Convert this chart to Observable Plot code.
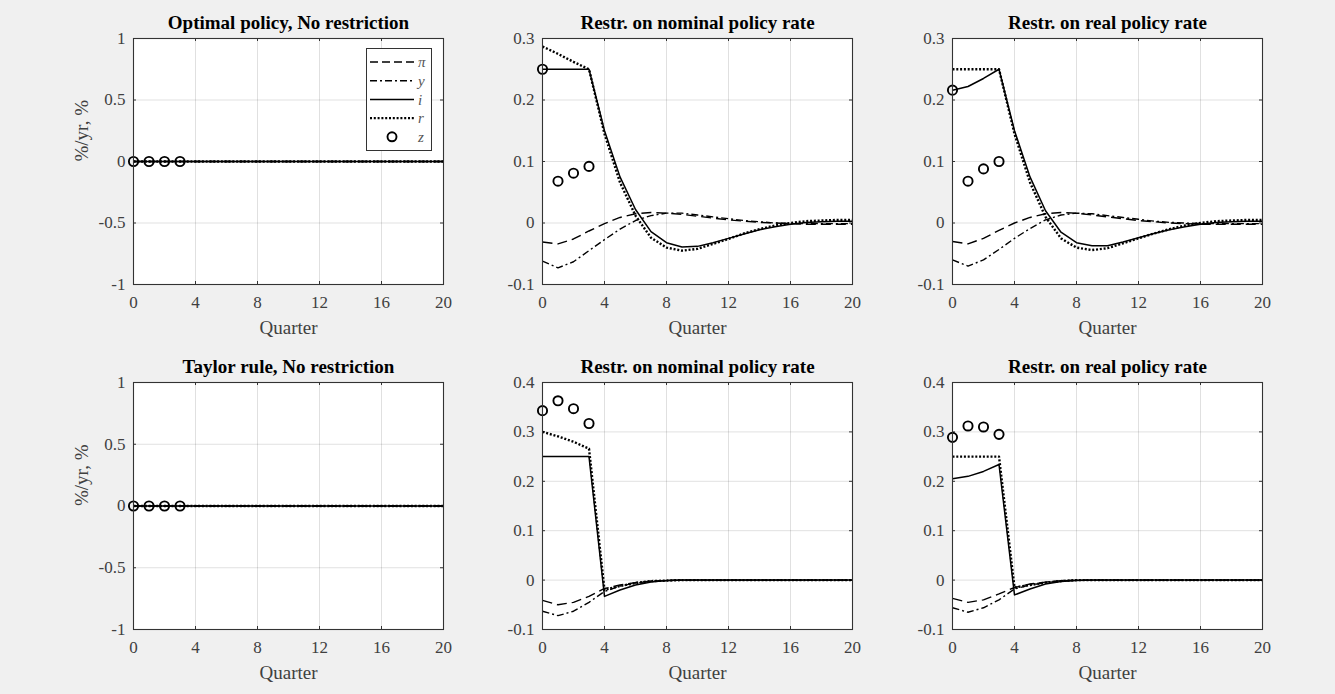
<!DOCTYPE html>
<html><head><meta charset="utf-8">
<script src="https://cdn.jsdelivr.net/npm/d3@7"></script>
<script src="https://cdn.jsdelivr.net/npm/@observablehq/plot@0.6"></script>
<style>
body{margin:0;background:#f0f0f0;}
#fig{position:relative;width:1335px;height:694px;background:#f0f0f0;overflow:hidden;font-family:"Liberation Serif",serif;}
</style></head><body><div id="fig"></div>
<script>
// ---------- data ----------
const quarters = [0,1,2,3,4,5,6,7,8,9,10,11,12,13,14,15,16,17,18,19,20];
const zQuarters = [0,1,2,3];
const xTicks = [0,4,8,12,16,20];
const yTicksWide = [-1,-0.5,0,0.5,1];
const yTicksOpt = [-0.1,0,0.1,0.2,0.3];
const yTicksTaylor = [-0.1,0,0.1,0.2,0.3,0.4];
const seriesNames = ["π","y","i","r","z"];

const titles = ["Optimal policy, No restriction","Restr. on nominal policy rate","Restr. on real policy rate",
                "Taylor rule, No restriction","Restr. on nominal policy rate","Restr. on real policy rate"];

// Optimal policy, no restriction (all zero)
const optNone_pi = [0,0,0,0,0,0,0,0,0,0,0,0,0,0,0,0,0,0,0,0,0];
const optNone_y  = [0,0,0,0,0,0,0,0,0,0,0,0,0,0,0,0,0,0,0,0,0];
const optNone_i  = [0,0,0,0,0,0,0,0,0,0,0,0,0,0,0,0,0,0,0,0,0];
const optNone_r  = [0,0,0,0,0,0,0,0,0,0,0,0,0,0,0,0,0,0,0,0,0];
const optNone_z  = [0,0,0,0];

// Optimal policy, restriction on nominal rate
const optNom_pi = [-0.031,-0.034,-0.026,-0.013,-0.001,0.009,0.015,0.017,0.016,0.014,0.011,0.008,0.005,0.003,0.001,0.0,-0.001,-0.002,-0.002,-0.002,-0.002];
const optNom_y  = [-0.062,-0.073,-0.063,-0.045,-0.027,-0.010,0.004,0.012,0.016,0.016,0.013,0.010,0.007,0.004,0.002,0.0,-0.001,-0.001,-0.001,-0.001,-0.001];
const optNom_i  = [0.25,0.25,0.25,0.25,0.150,0.075,0.022,-0.014,-0.032,-0.039,-0.038,-0.032,-0.025,-0.018,-0.011,-0.006,-0.002,0.001,0.002,0.003,0.003];
const optNom_r  = [0.287,0.275,0.262,0.25,0.145,0.066,0.012,-0.024,-0.040,-0.045,-0.042,-0.034,-0.026,-0.017,-0.010,-0.004,0.0,0.003,0.004,0.005,0.005];
const optNom_z  = [0.25,0.068,0.081,0.092];

// Optimal policy, restriction on real rate
const optReal_pi = [-0.030,-0.034,-0.025,-0.012,0.0,0.009,0.015,0.017,0.016,0.013,0.010,0.007,0.004,0.002,0.0,-0.001,-0.002,-0.002,-0.002,-0.002,-0.002];
const optReal_y  = [-0.060,-0.070,-0.060,-0.043,-0.025,-0.009,0.005,0.013,0.016,0.015,0.012,0.009,0.006,0.003,0.001,0.0,-0.001,-0.001,-0.001,-0.001,-0.001];
const optReal_i  = [0.216,0.222,0.235,0.25,0.150,0.075,0.020,-0.015,-0.032,-0.037,-0.037,-0.031,-0.024,-0.017,-0.011,-0.006,-0.002,0.001,0.002,0.003,0.003];
const optReal_r  = [0.25,0.25,0.25,0.25,0.145,0.066,0.010,-0.025,-0.040,-0.044,-0.041,-0.033,-0.025,-0.017,-0.010,-0.004,0.0,0.003,0.004,0.005,0.005];
const optReal_z  = [0.216,0.068,0.088,0.100];

// Taylor rule, no restriction (all zero)
const tayNone_pi = [0,0,0,0,0,0,0,0,0,0,0,0,0,0,0,0,0,0,0,0,0];
const tayNone_y  = [0,0,0,0,0,0,0,0,0,0,0,0,0,0,0,0,0,0,0,0,0];
const tayNone_i  = [0,0,0,0,0,0,0,0,0,0,0,0,0,0,0,0,0,0,0,0,0];
const tayNone_r  = [0,0,0,0,0,0,0,0,0,0,0,0,0,0,0,0,0,0,0,0,0];
const tayNone_z  = [0,0,0,0];

// Taylor rule, restriction on nominal rate
const tayNom_pi = [-0.041,-0.050,-0.045,-0.033,-0.017,-0.010,-0.005,-0.002,-0.001,0,0,0,0,0,0,0,0,0,0,0,0];
const tayNom_y  = [-0.063,-0.072,-0.063,-0.045,-0.023,-0.012,-0.006,-0.002,-0.001,0,0,0,0,0,0,0,0,0,0,0,0];
const tayNom_i  = [0.25,0.25,0.25,0.25,-0.033,-0.020,-0.010,-0.004,-0.001,0,0,0,0,0,0,0,0,0,0,0,0];
const tayNom_r  = [0.30,0.291,0.280,0.266,-0.020,-0.012,-0.006,-0.002,-0.001,0,0,0,0,0,0,0,0,0,0,0,0];
const tayNom_z  = [0.343,0.363,0.347,0.317];

// Taylor rule, restriction on real rate
const tayReal_pi = [-0.037,-0.045,-0.040,-0.028,-0.015,-0.008,-0.004,-0.001,0,0,0,0,0,0,0,0,0,0,0,0,0];
const tayReal_y  = [-0.056,-0.065,-0.056,-0.040,-0.018,-0.010,-0.005,-0.002,0,0,0,0,0,0,0,0,0,0,0,0,0];
const tayReal_i  = [0.205,0.210,0.220,0.234,-0.030,-0.018,-0.008,-0.003,-0.001,0,0,0,0,0,0,0,0,0,0,0,0];
const tayReal_r  = [0.25,0.25,0.25,0.25,-0.015,-0.010,-0.005,-0.002,0,0,0,0,0,0,0,0,0,0,0,0,0];
const tayReal_z  = [0.289,0.312,0.310,0.295];

// ---------- styles ----------
const lineStyles = {
  "π": {strokeWidth:1.4, strokeDasharray:"10,5"},
  "y": {strokeWidth:1.4, strokeDasharray:"7,3,2,3"},
  "i": {strokeWidth:1.5, strokeDasharray:null},
  "r": {strokeWidth:2.4, strokeDasharray:"2,1.8"}
};

const panels = [
  {title:titles[0], pi:optNone_pi, y:optNone_y, i:optNone_i, r:optNone_r, z:optNone_z, dom:[-1,1], ticks:yTicksWide, ylab:true, col:0, row:0, legend:true},
  {title:titles[1], pi:optNom_pi, y:optNom_y, i:optNom_i, r:optNom_r, z:optNom_z, dom:[-0.1,0.3], ticks:yTicksOpt, col:1, row:0},
  {title:titles[2], pi:optReal_pi, y:optReal_y, i:optReal_i, r:optReal_r, z:optReal_z, dom:[-0.1,0.3], ticks:yTicksOpt, col:2, row:0},
  {title:titles[3], pi:tayNone_pi, y:tayNone_y, i:tayNone_i, r:tayNone_r, z:tayNone_z, dom:[-1,1], ticks:yTicksWide, ylab:true, col:0, row:1},
  {title:titles[4], pi:tayNom_pi, y:tayNom_y, i:tayNom_i, r:tayNom_r, z:tayNom_z, dom:[-0.1,0.4], ticks:yTicksTaylor, col:1, row:1},
  {title:titles[5], pi:tayReal_pi, y:tayReal_y, i:tayReal_i, r:tayReal_r, z:tayReal_z, dom:[-0.1,0.4], ticks:yTicksTaylor, col:2, row:1}
];

// layout
const colLeft = [133, 542, 952];
const rowTop = [38, 382];
const rowH = [246, 247];
const plotW = 310;
const tickLen = 3;
const mL = 66, mR = 14, mT = 34, mB = 56;
const fig = document.getElementById("fig");
const fmt = d => String(d);
const serif = "'Liberation Serif', 'Times New Roman', serif";

for (const p of panels) {
  const ph = rowH[p.row];
  const rows = (arr) => quarters.map((q,k) => ({q, v: arr[k]}));
  const zrows = zQuarters.map((q,k) => ({q, v: p.z[k]}));
  const marks = [
    Plot.frame({fill:"white"}),
    Plot.gridX(xTicks, {stroke:"#000", strokeOpacity:0.12}),
    Plot.gridY(p.ticks, {stroke:"#000", strokeOpacity:0.12}),
    // inward tick marks on all four sides
    Plot.ruleX(xTicks, {stroke:"#333", insetTop: ph - tickLen}),
    Plot.ruleX(xTicks, {stroke:"#333", insetBottom: ph - tickLen}),
    Plot.ruleY(p.ticks, {stroke:"#333", insetRight: plotW - tickLen}),
    Plot.ruleY(p.ticks, {stroke:"#333", insetLeft: plotW - tickLen}),
    Plot.axisX(xTicks, {tickSize:0, tickPadding:11, tickFormat:fmt, label:null, fontSize:17, fill:"#404040"}),
    Plot.axisY(p.ticks, {tickSize:0, tickPadding:8, tickFormat:fmt, label:null, fontSize:17, fill:"#404040"}),
  ];
  const keys = ["pi","y","i","r"];
  keys.forEach((k, idx) => {
    const st = lineStyles[seriesNames[idx]];
    marks.push(Plot.line(rows(p[k]), {x:"q", y:"v", stroke:"black", strokeWidth:st.strokeWidth,
      strokeLinecap:"butt", strokeLinejoin:"round",
      strokeDasharray:st.strokeDasharray || undefined}));
  });
  marks.push(Plot.dot(zrows, {x:"q", y:"v", r:4.6, stroke:"black", strokeWidth:1.9, fill:"none"}));
  marks.push(Plot.frame({stroke:"#333", strokeWidth:1.1}));
  marks.push(Plot.text([p.title], {frameAnchor:"top", lineAnchor:"middle", dy:-16, fontWeight:"bold", fontSize:19, fill:"black"}));
  marks.push(Plot.text(["Quarter"], {frameAnchor:"bottom", lineAnchor:"middle", dy:43, fontSize:19, fill:"#404040"}));
  if (p.ylab) marks.push(Plot.text(["%/yr, %"], {frameAnchor:"left", lineAnchor:"middle", dx:-52, rotate:-90, fontSize:19, fill:"#404040"}));

  const chart = Plot.plot({
    width: plotW + mL + mR,
    height: ph + mT + mB,
    marginLeft: mL, marginRight: mR, marginTop: mT, marginBottom: mB,
    style: {background:"transparent", fontFamily:serif, fontSize:"17px", color:"#404040", overflow:"visible"},
    x: {domain:[0,20], axis:null},
    y: {domain:p.dom, axis:null},
    marks
  });
  chart.style.position = "absolute";
  chart.style.left = (colLeft[p.col] - mL) + "px";
  chart.style.top = (rowTop[p.row] - mT) + "px";
  fig.appendChild(chart);

  if (p.legend) {
    const lg = d3.create("svg").attr("width", 66).attr("height", 103)
      .style("position","absolute").style("left","366px").style("top","48px")
      .style("font-family", serif);
    lg.append("rect").attr("x",0.5).attr("y",0.5).attr("width",65).attr("height",102)
      .attr("fill","white").attr("stroke","#333");
    seriesNames.forEach((name, idx) => {
      const cy = 14 + idx * 18.7;
      if (name === "z") {
        lg.append("circle").attr("cx",26).attr("cy",cy).attr("r",4.5).attr("fill","none")
          .attr("stroke","black").attr("stroke-width",1.9);
      } else {
        const st = lineStyles[name];
        const ln = lg.append("line").attr("x1",4).attr("x2",48).attr("y1",cy).attr("y2",cy)
          .attr("stroke","black").attr("stroke-width",st.strokeWidth).attr("stroke-linecap","butt");
        if (st.strokeDasharray) ln.attr("stroke-dasharray", name === "π" ? "8,4" : st.strokeDasharray);
      }
      lg.append("text").attr("x",52).attr("y",cy).attr("dy","0.35em").attr("font-style","italic")
        .attr("font-size",15).attr("fill","#555").text(name);
    });
    fig.appendChild(lg.node());
  }
}
</script>
</body></html>
